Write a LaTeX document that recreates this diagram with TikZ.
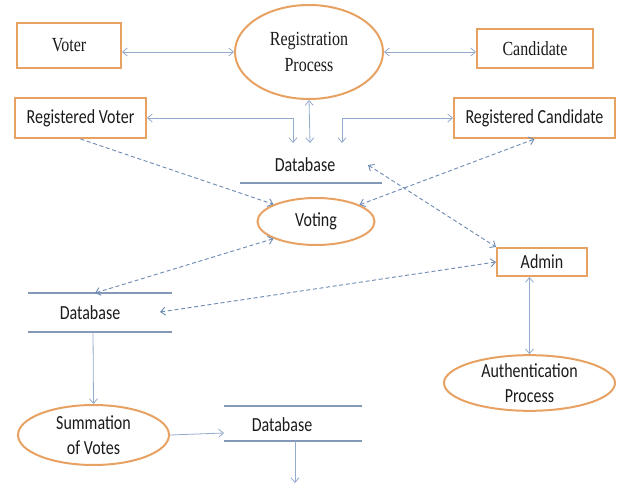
\documentclass[tikz,border=0pt]{standalone}
\usepackage{fontspec}
\usepackage{graphicx}
\setmainfont{Liberation Serif}
\newfontfamily\calib{Carlito}
\usetikzlibrary{shapes.geometric,arrows.meta}
\definecolor{boxorange}{HTML}{E7A263}
\definecolor{connblue}{HTML}{93AACB}
\definecolor{dashblue}{HTML}{6F8DB4}
\definecolor{txt}{HTML}{1A1A1A}
\newcommand{\vs}[1]{\scalebox{1}[1.25]{#1}}
\begin{document}
\begin{tikzpicture}[x=0.75pt,y=-0.75pt,
  every node/.style={text=txt,inner sep=0pt},
  serifbox/.style={draw=boxorange,line width=1.5pt,rectangle,font=\fontsize{12}{14}\selectfont},
  sansbox/.style={draw=boxorange,line width=1.5pt,rectangle,font=\calib\fontsize{12}{14}\selectfont},
  proc/.style={draw=boxorange,line width=1.5pt,ellipse,align=center,font=\calib\fontsize{12}{19}\selectfont},
  dblabel/.style={font=\calib\fontsize{12}{14}\selectfont},
  storeline/.style={draw=connblue!90!black,line width=0.8pt},
  conn/.style={draw=connblue,line width=0.6pt},
  dconn/.style={draw=dashblue,line width=0.7pt,dash pattern=on 3pt off 2pt},
  tip/.tip={Straight Barb[length=3.5pt,width=6pt]}
]
\useasboundingbox (0,0) rectangle (617,488);

% boxes
\node[serifbox,minimum width=78pt,minimum height=33.75pt] (voter) at (69,45.5) {\vs{Voter}};
\node[draw=boxorange,line width=1.5pt,ellipse,minimum width=111pt,minimum height=70.5pt,align=center,font=\fontsize{12}{20}\selectfont] (reg) at (309,52) {\vs{Registration}\\\vs{Process}};
\node[serifbox,minimum width=87pt,minimum height=29.25pt] (cand) at (535,48.5) {\vs{Candidate}};
\node[sansbox,minimum width=98.25pt,minimum height=30pt] (rvoter) at (80.5,118) {\vs{Registered Voter}};
\node[sansbox,minimum width=120.75pt,minimum height=30pt] (rcand) at (534.5,118) {\vs{Registered Candidate}};
\node[proc,minimum width=87.75pt,minimum height=35.25pt] (voting) at (316,221.5) {\vs{Voting}};
\node[sansbox,minimum width=67.5pt,minimum height=21pt] (admin) at (542,262) {\vs{Admin}};
\node[proc,minimum width=128.25pt,minimum height=37.5pt] (auth) at (529.5,383) {\vs{Authentication}\\\vs{Process}};
\node[proc,minimum width=113.25pt,minimum height=45pt] (sum) at (93.5,435) {\vs{Summation}\\\vs{of Votes}};

% data stores
\node[dblabel] (db1) at (305,165) {\vs{Database}};
\draw[storeline] (240,183) -- (382,183);
\node[dblabel] (db2) at (90,313) {\vs{Database}};
\draw[storeline] (28,293) -- (172,293);
\draw[storeline] (28,332) -- (172,332);
\node[dblabel] (db3) at (282,425) {\vs{Database}};
\draw[storeline] (224,406) -- (362,406);
\draw[storeline] (224,441) -- (362,441);

% connector ends at stores
\coordinate (db1m) at (310,143);
\coordinate (db1l) at (293,143);
\coordinate (db1c) at (342,143);
\coordinate (db1r) at (368,165);
\coordinate (db2t) at (95,293);
\coordinate (db2r) at (160,312);
\coordinate (db2b) at (93,332);
\coordinate (db3l) at (224,433);
\coordinate (db3b) at (295,441);
\coordinate (db3e) at (295,483);

% solid connectors
\draw[conn,{tip}-{tip}] (reg.west -| voter.east) -- (reg.west);
\draw[conn,{tip}-{tip}] (reg.east) -- (reg.east -| cand.west);
\draw[conn,{tip}-{tip}] (reg.south) -- (db1m);
\draw[conn,{tip}-{tip}] (db1l) |- (rvoter.east);
\draw[conn,{tip}-{tip}] (db1c) |- (rcand.west);
\draw[conn,-{tip}] (db2b) -- (sum.north);
\draw[conn,-{tip}] (sum.east) -- (db3l);
\draw[conn,-{tip}] (db3b) -- (db3e);
\draw[conn,{tip}-{tip}] (admin.south -| auth.north) -- (auth.north);

% dashed connectors
\draw[dconn,-{tip}] (rvoter.south) -- (voting.158);
\draw[dconn,{tip}-{tip}] (voting.21) -- (rcand.south);
\draw[dconn,{tip}-{tip}] (db1r) -- (admin.north west);
\draw[dconn,{tip}-{tip}] (admin.west) -- (db2r);
\draw[dconn,{tip}-{tip}] (voting.202) -- (db2t);
\end{tikzpicture}
\end{document}
